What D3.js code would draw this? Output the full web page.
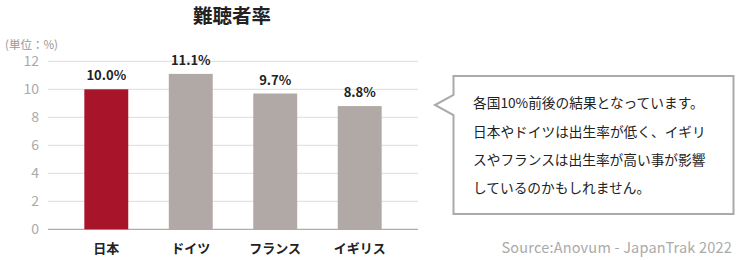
<!DOCTYPE html>
<html>
<head>
<meta charset="utf-8">
<script src="https://cdn.jsdelivr.net/npm/d3@7"></script>
<style>
  body { margin: 0; background: #fff; }
  svg { display: block; font-family: "Noto Sans CJK JP", "Noto Sans", sans-serif; }
</style>
</head>
<body>
<svg id="chart" width="753" height="260"></svg>
<script>
'use strict';

let categories = ['日本', 'ドイツ', 'フランス', 'イギリス'];
let values = [10.0, 11.1, 9.7, 8.8];
let yTicks = [0, 2, 4, 6, 8, 10, 12];
let noteLines = [
  '各国10%前後の結果となっています。',
  '日本やドイツは出生率が低く、イギリ',
  'スやフランスは出生率が高い事が影響',
  'しているのかもしれません。',
];

let svg = d3.select('#chart');

let plot = {x0: 48, x1: 418, y0: 229.3, y1: 61.3};

let x = d3.scaleBand()
  .domain(categories)
  .range([plot.x0, plot.x1])
  .paddingInner(0.48)
  .paddingOuter(0.43);

let y = d3.scaleLinear()
  .domain([0, 12])
  .range([plot.y0, plot.y1]);

// title
svg.append('text')
  .attr('x', 232)
  .attr('y', 22.8)
  .style('text-anchor', 'middle')
  .style('font-size', '19.5px')
  .style('font-weight', 'bold')
  .style('fill', '#222')
  .text('難聴者率');

svg.append('text')
  .attr('x', 5)
  .attr('y', 49)
  .style('font-size', '11.5px')
  .style('fill', '#999')
  .text('(単位：%)');

// grid lines
svg.append('g')
  .selectAll('line')
  .data(yTicks)
  .join('line')
  .attr('x1', plot.x0)
  .attr('x2', plot.x1)
  .attr('y1', d => y(d))
  .attr('y2', d => y(d))
  .style('stroke', d => d === 0 ? '#999' : '#ddd')
  .style('stroke-width', 1);

// y axis labels
svg.append('g')
  .selectAll('text')
  .data(yTicks)
  .join('text')
  .attr('x', 39)
  .attr('y', d => y(d))
  .attr('dy', '0.35em')
  .style('text-anchor', 'end')
  .style('font-size', '14px')
  .style('fill', '#aaa')
  .text(d => d);

// bars
svg.append('g')
  .selectAll('rect')
  .data(values)
  .join('rect')
  .attr('x', (d, i) => x(categories[i]))
  .attr('y', d => y(d))
  .attr('width', x.bandwidth())
  .attr('height', d => y(0) - y(d))
  .style('fill', (d, i) => i === 0 ? '#a8152b' : '#b0a9a5');

// value labels
svg.append('g')
  .selectAll('text')
  .data(values)
  .join('text')
  .attr('x', (d, i) => x(categories[i]) + x.bandwidth() / 2)
  .attr('y', d => y(d) - 9)
  .style('text-anchor', 'middle')
  .style('font-size', '13px')
  .style('font-weight', 'bold')
  .style('fill', '#222')
  .text(d => d.toFixed(1) + '%');

// category labels
svg.append('g')
  .selectAll('text')
  .data(categories)
  .join('text')
  .attr('x', d => x(d) + x.bandwidth() / 2)
  .attr('y', 248)
  .attr('dy', '0.35em')
  .style('text-anchor', 'middle')
  .style('font-size', '13px')
  .style('font-weight', 'bold')
  .style('fill', '#222')
  .text(d => d);

// speech bubble
let bx0 = 453.5, bx1 = 733.5, by0 = 76, by1 = 214;
svg.append('path')
  .attr('d', `M${bx0},${by0} L${bx1},${by0} L${bx1},${by1} L${bx0},${by1} L${bx0},115 L435,105 L${bx0},95 Z`)
  .style('fill', '#fff')
  .style('stroke', '#aaa')
  .style('stroke-width', 2);

svg.append('g')
  .selectAll('text')
  .data(noteLines)
  .join('text')
  .attr('x', 473)
  .attr('y', (d, i) => 103.5 + i * 28.4)
  .attr('dy', '0.35em')
  .style('font-size', '13.7px')
  .style('fill', '#222')
  .text(d => d);

// source
svg.append('text')
  .attr('x', 732)
  .attr('y', 248)
  .attr('dy', '0.35em')
  .style('text-anchor', 'end')
  .style('font-size', '14.5px')
  .style('letter-spacing', '0.2px')
  .style('fill', '#aaa')
  .text('Source:Anovum - JapanTrak 2022');
</script>
</body>
</html>
